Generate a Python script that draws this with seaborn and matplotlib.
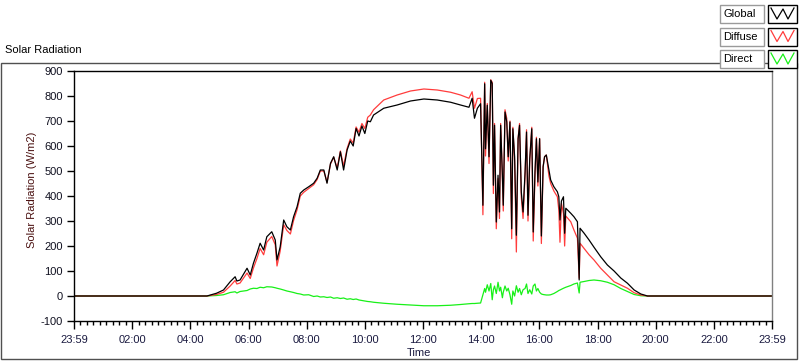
import numpy as np
import pandas as pd
import matplotlib
matplotlib.use("Agg")
import matplotlib.pyplot as plt
import seaborn as sns
from matplotlib.patches import Rectangle
from matplotlib.lines import Line2D
from matplotlib.ticker import MultipleLocator, FixedLocator, FixedFormatter

# ---- data (hours after 23:59, W/m2) ----
hours = [0.00, 4.57, 4.90, 5.14, 5.37, 5.54, 5.60, 5.71, 5.95, 6.06, 6.17, 6.29, 6.40, 6.52, 6.63,
         6.80, 6.92, 6.98, 7.09, 7.21, 7.32, 7.44, 7.55, 7.67, 7.78, 7.90, 8.07, 8.24, 8.36, 8.47,
         8.59, 8.70, 8.82, 8.93, 9.05, 9.16, 9.27, 9.39, 9.50, 9.60, 9.70, 9.80, 9.90, 10.00, 10.10,
         10.19, 10.30, 10.65, 11.11, 11.57, 12.03, 12.49, 12.95, 13.29, 13.58, 13.69, 13.77, 13.87,
         13.98, 14.06, 14.12, 14.15, 14.21, 14.27, 14.33, 14.38, 14.42, 14.46, 14.52, 14.58, 14.63,
         14.67, 14.73, 14.76, 14.82, 14.88, 14.93, 14.99, 15.05, 15.09, 15.15, 15.21, 15.27, 15.32,
         15.38, 15.44, 15.51, 15.56, 15.61, 15.67, 15.74, 15.79, 15.85, 15.90, 15.95, 16.01, 16.07,
         16.13, 16.18, 16.24, 16.33, 16.39, 16.50, 16.62, 16.67, 16.71, 16.76, 16.83, 16.87, 16.91,
         17.08, 17.19, 17.31, 17.37, 17.40, 17.54, 17.71, 17.88, 18.11, 18.34, 18.57, 18.80, 19.03,
         19.26, 19.49, 19.72, 24.00]

global_rad = [0, 0, 11, 24, 57, 77, 60, 64, 111, 84, 131, 171, 211, 184, 237,
              257, 224, 144, 197, 304, 277, 264, 317, 357, 411, 424, 437, 451, 471, 504,
              504, 451, 531, 557, 504, 577, 504, 584, 620, 600, 670, 640, 680, 650, 700,
              697, 724, 751, 764, 780, 788, 784, 775, 764, 755, 791, 711, 751,
              769, 363, 849, 589, 763, 557, 863, 850, 443, 683, 296, 483, 336,
              683, 483, 363, 736, 696, 557, 696, 269, 669, 557, 243, 629, 683,
              416, 336, 496, 656, 323, 549, 669, 256, 496, 629, 456, 629, 240,
              517, 557, 564, 504, 464, 437, 417, 397, 304, 380, 397, 251, 351,
              331, 317, 297, 64, 271, 251, 224, 195, 157, 124, 100, 72, 51,
              24, 8, 0, 0]

diffuse_rad = [0, 0, 6, 15, 40, 62, 48, 52, 92, 70, 112, 150, 190, 165, 215,
               238, 205, 120, 180, 285, 262, 248, 302, 345, 400, 415, 430, 445, 466, 500,
               500, 455, 528, 555, 512, 580, 520, 590, 628, 612, 676, 655, 690, 670, 715,
               724, 745, 784, 804, 820, 828, 824, 815, 804, 791, 817, 751, 790,
               791, 325, 855, 560, 770, 530, 865, 855, 410, 690, 269, 470, 310,
               690, 470, 340, 745, 710, 540, 700, 229, 675, 540, 176, 630, 690,
               395, 310, 485, 665, 300, 540, 675, 220, 480, 635, 440, 630, 210,
               517, 557, 564, 480, 450, 420, 397, 344, 215, 370, 330, 200, 320,
               297, 264, 231, 71, 211, 190, 165, 144, 111, 84, 57, 44, 31,
               13, 4, 0, 0]

direct_rad = [0, 0, 2, 5, 14, 17, 12, 18, 22, 28, 31, 30, 35, 33, 37,
              36, 33, 31, 28, 24, 20, 17, 14, 10, 8, 4, 5, -2, 0, -4,
              -3, -6, -4, -9, -7, -10, -8, -13, -11, -14, -12, -16, -18, -20, -22,
              -23, -25, -29, -33, -36, -39, -39, -37, -34, -31, -30, -30, -29,
              -28, 5, 30, 15, 45, 20, 50, -15, 25, 40, 10, 55, 20,
              35, -7, 15, 40, 20, 31, 5, -33, 20, 0, 41, 15, 30,
              5, 25, 30, 48, 10, 25, 8, 40, 48, 20, 30, 15, 8,
              6, 5, 4, 4, 5, 10, 18, 22, 24, 27, 31, 33, 35,
              42, 48, 52, 12, 55, 58, 62, 64, 61, 55, 45, 30, 18,
              6, 1, 0, 0]

series_names = ["Global", "Diffuse", "Direct"]
series_colors = ["#000000", "#ff3c3c", "#18f018"]
x_tick_labels = ["23:59", "02:00", "04:00", "06:00", "08:00", "10:00", "12:00",
                 "14:00", "16:00", "18:00", "20:00", "22:00", "23:59"]
y_ticks = [-100, 0, 100, 200, 300, 400, 500, 600, 700, 800, 900]

df = pd.DataFrame({"hours": hours, "Global": global_rad,
                   "Diffuse": diffuse_rad, "Direct": direct_rad})

# ---- figure ----
W, H = 800, 361
plt.rcParams["font.family"] = ["Liberation Sans", "DejaVu Sans"]
fig = plt.figure(figsize=(W / 100, H / 100), dpi=100)
fig.patch.set_facecolor("white")

def fx(x):
    return x / W

def fy(y):
    return 1 - y / H

ax = fig.add_axes([fx(74), fy(321), (772 - 74) / W, (321 - 71) / H])

# draw Direct first, then Diffuse, Global on top
for name, col in [("Direct", series_colors[2]), ("Diffuse", series_colors[1]), ("Global", series_colors[0])]:
    sns.lineplot(data=df, x="hours", y=name, ax=ax, color=col, linewidth=0.9,
                 estimator=None, sort=False, legend=False)

ax.set_xlim(0, 24)
ax.set_ylim(-100, 900)
ax.set_xlabel("")
ax.set_ylabel("")
ax.set_facecolor("white")

ax.xaxis.set_major_locator(FixedLocator(list(range(0, 25, 2))))
ax.xaxis.set_major_formatter(FixedFormatter(x_tick_labels))
ax.xaxis.set_minor_locator(MultipleLocator(2 / 9))
ax.set_yticks(y_ticks)
ax.set_yticklabels([str(v) for v in y_ticks])

ax.tick_params(axis="x", which="major", length=6, width=1, direction="out",
               labelsize=8, pad=4, labelcolor="#1a1a40", color="black")
ax.tick_params(axis="x", which="minor", length=3, width=1, direction="out", color="black")
ax.tick_params(axis="y", which="major", length=5, width=1, direction="out",
               labelsize=8, pad=3, labelcolor="#101020", color="black")

for s in ["left", "bottom", "top"]:
    ax.spines[s].set_color("black")
    ax.spines[s].set_linewidth(1)
ax.spines["right"].set_color("#808080")
ax.spines["right"].set_linewidth(1)

# panel frame
frame = Rectangle((fx(1), fy(359)), (797 - 1) / W, (359 - 63) / H, transform=fig.transFigure,
                  fill=False, edgecolor="#505050", linewidth=1.0, zorder=0)
fig.add_artist(frame)

# titles
fig.text(fx(5), fy(50), "Solar Radiation", fontsize=8, ha="left", va="center", color="#000000")
fig.text(fx(32), fy(190), "Solar Radiation (W/m2)", fontsize=8, rotation=90,
         ha="center", va="center", color="#4a1010")
fig.text(fx(419), fy(353), "Time", fontsize=8, ha="center", va="center", color="#1a1a40")

# legend
row_tops = [5, 27.5, 50]
for name, col, top in zip(series_names, series_colors, row_tops):
    lab = Rectangle((fx(720), fy(top + 18)), 44 / W, 18 / H, transform=fig.transFigure,
                    facecolor="white", edgecolor="#9a9a9a", linewidth=1.0, zorder=5)
    fig.add_artist(lab)
    fig.text(fx(723), fy(top + 9), name, fontsize=8, ha="left", va="center",
             color="black", zorder=6)
    sw = Rectangle((fx(768), fy(top + 18)), 29 / W, 18 / H, transform=fig.transFigure,
                   facecolor="white", edgecolor="black", linewidth=1.0, zorder=5)
    fig.add_artist(sw)
    zx = [771, 777, 783, 788, 794]
    zy = [top + 3, top + 14, top + 4, top + 14, top + 3]
    fig.add_artist(Line2D([fx(v) for v in zx], [fy(v) for v in zy], transform=fig.transFigure,
                          color=col, linewidth=0.9, zorder=6))

fig.savefig("out.png", dpi=100)
